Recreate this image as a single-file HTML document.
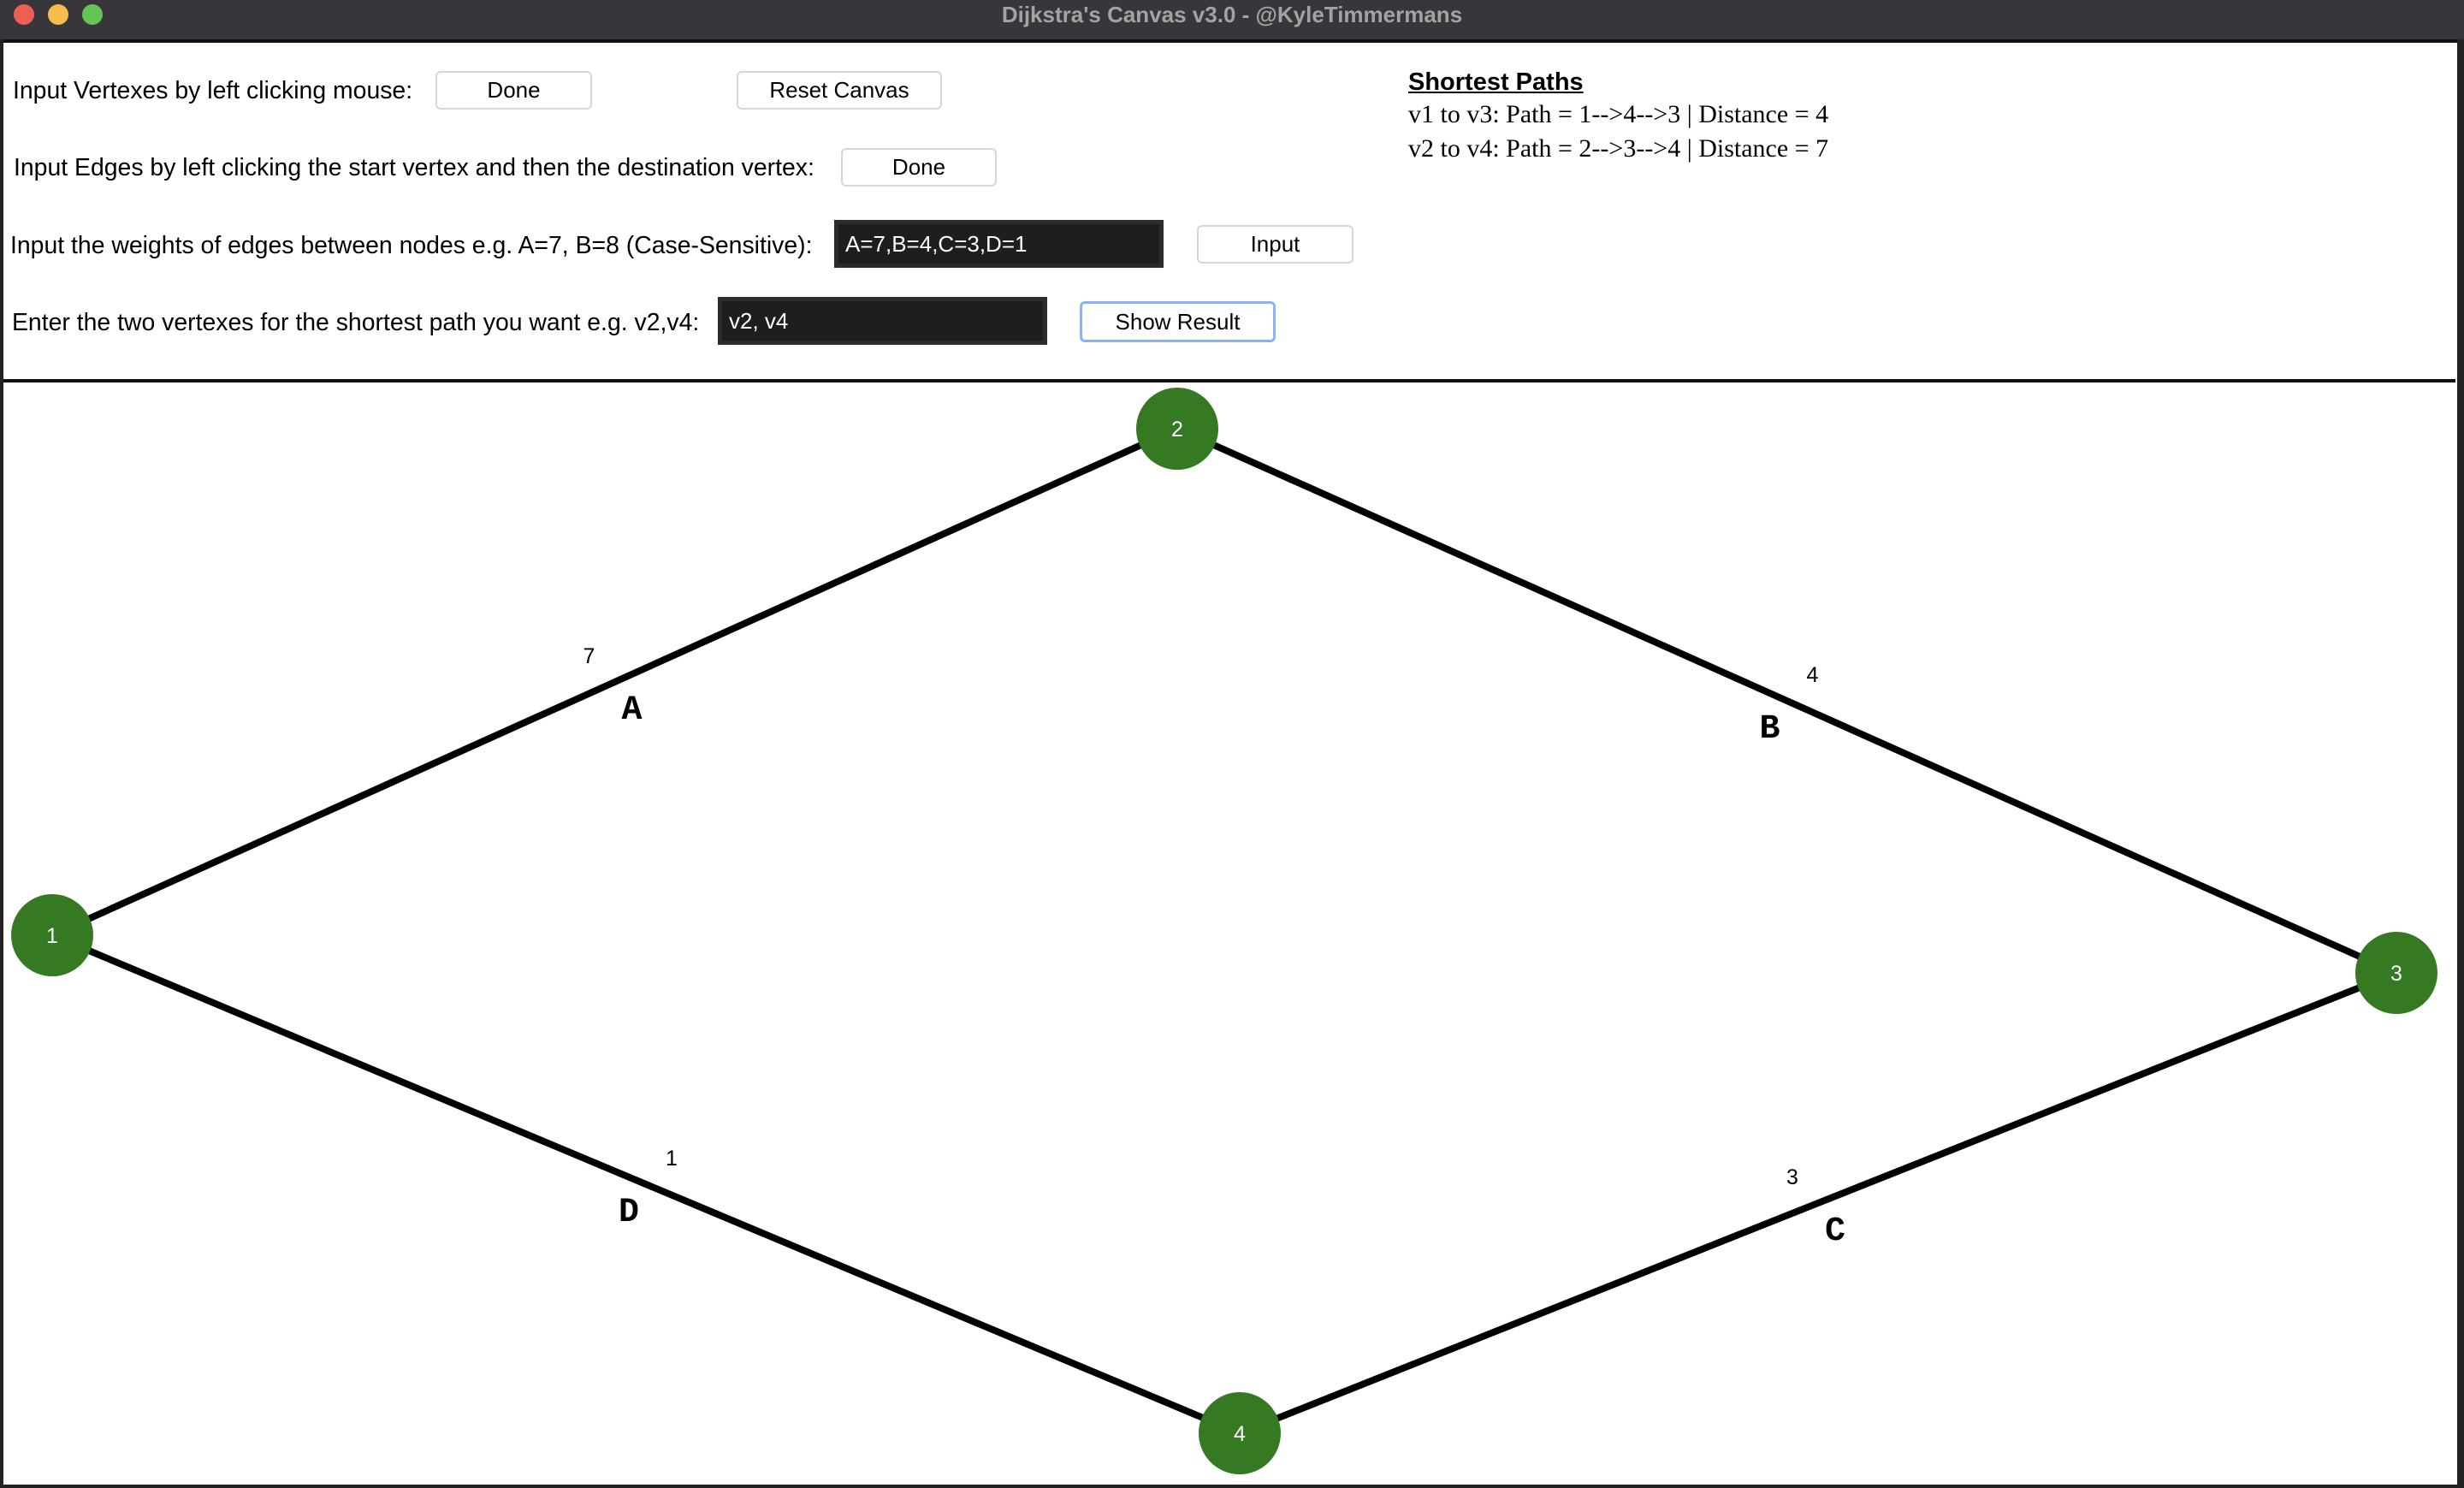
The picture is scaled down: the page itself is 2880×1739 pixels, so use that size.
<!DOCTYPE html>
<html><head><meta charset="utf-8"><style>
html,body{margin:0;padding:0;width:2880px;height:1739px;overflow:hidden;background:#fff;font-family:"Liberation Sans",sans-serif}
#win{position:absolute;left:0;top:0;width:2880px;height:1739px;background:#fff}
#titlebar{position:absolute;left:0;top:0;width:2880px;height:46px;background:#38363a;border-bottom:4px solid #111}
.light{position:absolute;top:5px;width:24px;height:24px;border-radius:50%}
#title{position:absolute;left:0;width:2880px;top:0;line-height:34px;text-align:center;color:#a3a3a3;font-weight:bold;font-size:26px}
.lbl{position:absolute;font-size:28.4px;color:#000;white-space:nowrap;line-height:32px}
.btn{position:absolute;background:#fff;border:2px solid #d6d6d6;border-radius:6px;box-sizing:border-box;font-size:26px;text-align:center}
.inp{position:absolute;background:#1e1e1e;border:5px solid #2c2c2c;box-sizing:border-box;color:#fff;font-size:26px;padding-left:8px}
#sep{position:absolute;left:4px;top:443px;width:2866px;height:4px;background:#111}
#lb{position:absolute;left:0;top:46px;width:4px;height:1693px;background:#222}
#rb{position:absolute;left:2872px;top:46px;width:8px;height:1693px;background:#222}
#bb{position:absolute;left:0;top:1735px;width:2880px;height:4px;background:#222}
</style></head><body>
<div id="win">
<div id="titlebar">
<div class="light" style="left:16px;background:#ec5f57"></div>
<div class="light" style="left:56px;background:#f4be4f"></div>
<div class="light" style="left:96px;background:#62c554"></div>
<div id="title">Dijkstra's Canvas v3.0 - @KyleTimmermans</div>
</div>
<div id="lb"></div><div id="rb"></div><div id="bb"></div>

<div class="lbl" style="left:15px;top:90px">Input Vertexes by left clicking mouse:</div>
<div class="btn" style="left:509px;top:83px;width:183px;height:45px;line-height:41px">Done</div>
<div class="btn" style="left:861px;top:83px;width:240px;height:45px;line-height:41px">Reset Canvas</div>

<div class="lbl" style="left:16px;top:180px">Input Edges by left clicking the start vertex and then the destination vertex:</div>
<div class="btn" style="left:983px;top:173px;width:182px;height:45px;line-height:41px">Done</div>

<div class="lbl" style="left:12px;top:271px">Input the weights of edges between nodes e.g. A=7, B=8 (Case-Sensitive):</div>
<div class="inp" style="left:975px;top:257px;width:385px;height:56px;line-height:46px">A=7,B=4,C=3,D=1</div>
<div class="btn" style="left:1399px;top:263px;width:183px;height:45px;line-height:41px">Input</div>

<div class="lbl" style="left:14px;top:361px">Enter the two vertexes for the shortest path you want e.g. v2,v4:</div>
<div class="inp" style="left:839px;top:347px;width:385px;height:56px;line-height:46px">v2, v4</div>
<div class="btn" style="left:1262px;top:352px;width:229px;height:48px;line-height:42px;border:3px solid #8ab3ef">Show Result</div>

<div class="lbl" style="left:1646px;top:80px;font-weight:bold;text-decoration:underline;font-size:29px">Shortest Paths</div>
<div class="lbl" style="left:1646px;top:118px;font-family:'Liberation Serif',serif;font-size:30px">v1 to v3: Path = 1-->4-->3 | Distance = 4</div>
<div class="lbl" style="left:1646px;top:158px;font-family:'Liberation Serif',serif;font-size:30px">v2 to v4: Path = 2-->3-->4 | Distance = 7</div>

<div id="sep"></div>
<svg id="g" width="2880" height="1739" style="position:absolute;left:0;top:0"></svg>
</div>
<script>
const nodeIds=["1","2","3","4"];
const nodeX=[61,1376,2801,1449];
const nodeY=[1093,501,1137,1675];
const edgeFrom=[0,1,3,0];
const edgeTo=[1,2,2,3];
const edgeNames=["A","B","C","D"];
const edgeWeights=[7,4,3,1];
const NS="http://www.w3.org/2000/svg";
const svg=document.getElementById('g');
function mk(t,a){const e=document.createElementNS(NS,t);for(const k in a)e.setAttribute(k,a[k]);return e;}
for(let i=0;i<edgeFrom.length;i++){
  const a=edgeFrom[i],b=edgeTo[i];
  const x1=nodeX[a],y1=nodeY[a],x2=nodeX[b],y2=nodeY[b];
  const l=mk('line',{x1:x1,y1:y1,x2:x2,y2:y2,stroke:'#000','stroke-width':8});
  
  
  svg.appendChild(l);
  const mx=(x1+x2)/2,my=(y1+y2)/2;
  const s=Math.sign((x2-x1)*(y2-y1));
  const t=mk('text',{x:mx-s*20,y:my+43,'text-anchor':'middle','font-family':'Liberation Mono, monospace','font-weight':'bold','font-size':40});
  t.textContent=edgeNames[i];
  
  
  svg.appendChild(t);
  const w=mk('text',{x:mx+s*30,y:my-22,'text-anchor':'middle','font-family':'Liberation Sans, sans-serif','font-size':25});
  w.textContent=edgeWeights[i];
  
  
  svg.appendChild(w);
}
for(let i=0;i<nodeIds.length;i++){
  const c=mk('circle',{cx:nodeX[i],cy:nodeY[i],r:48,fill:'#357a22'});
  
  
  svg.appendChild(c);
  const t=mk('text',{x:nodeX[i],y:nodeY[i]+9,'text-anchor':'middle',fill:'#fff','font-family':'Liberation Sans, sans-serif','font-size':25});
  t.textContent=nodeIds[i];
  
  
  svg.appendChild(t);
}
</script>
</body></html>
